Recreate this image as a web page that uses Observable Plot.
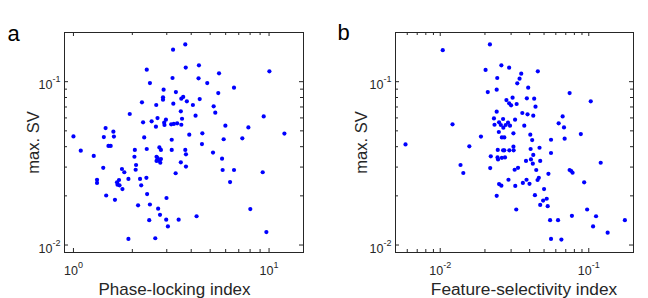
<!DOCTYPE html>
<html><head><meta charset="utf-8">
<script src="https://cdn.jsdelivr.net/npm/d3@7"></script>
<script src="https://cdn.jsdelivr.net/npm/@observablehq/plot@0.6"></script>
<style>
body{margin:0;background:#fff;}
#wrap{display:flex;width:648px;height:298px;overflow:hidden;}
svg{display:block}
</style></head><body><div id="wrap"></div>
<script>
// Panel a: phase-locking index vs max. SV
const plIndex = [1.00,1.09,1.27,1.42,1.32,1.32,1.47,1.43,1.46,1.51,1.55,1.60,1.61,1.63,1.71,1.67,1.68,1.72,1.77,1.78,1.82,1.91,1.94,2.06,2.05,2.09,2.08,2.14,2.19,2.22,2.24,2.27,2.30,2.37,2.36,2.38,2.37,2.46,2.44,2.46,2.51,2.64,2.65,2.62,2.69,2.71,2.75,2.80,2.66,2.69,2.66,2.74,2.80,2.78,2.77,2.89,2.87,2.87,2.91,2.97,2.92,2.98,2.99,3.04,3.18,3.18,3.16,3.21,3.23,3.24,3.34,3.33,3.26,3.39,3.54,3.54,3.59,3.56,3.64,3.45,1.91,3.73,3.75,3.73,3.76,3.76,3.80,3.56,3.91,4.08,4.21,4.26,4.38,4.36,4.42,4.56,4.54,4.83,5.21,5.31,5.17,5.50,5.55,5.98,5.86,5.75,5.79,6.62,6.62,6.32,7.30,7.84,8.02,9.28,9.39,9.69,10.04,11.98];
const svA = [0.0462,0.0378,0.0351,0.0297,0.0251,0.0240,0.0201,0.0458,0.0520,0.0404,0.0404,0.0494,0.0461,0.0189,0.0250,0.0242,0.0234,0.0232,0.0292,0.0220,0.0279,0.0254,0.0634,0.0382,0.0347,0.0309,0.0289,0.0175,0.0254,0.0232,0.0747,0.0564,0.0456,0.0387,0.0258,0.0205,0.1184,0.0177,0.0142,0.0981,0.0572,0.0530,0.0720,0.0110,0.0599,0.0167,0.0396,0.0382,0.0347,0.0341,0.0327,0.0328,0.0336,0.0319,0.0153,0.0893,0.0802,0.0776,0.0561,0.0585,0.0543,0.0143,0.0194,0.0130,0.0441,0.0382,0.0548,0.1053,0.157,0.0733,0.0864,0.0275,0.0551,0.0556,0.0321,0.0658,0.0593,0.0787,0.0806,0.0143,0.0109,0.169,0.122,0.0382,0.0359,0.0302,0.0758,0.0545,0.0474,0.0720,0.0619,0.0150,0.126,0.1048,0.0783,0.0483,0.0415,0.0981,0.0706,0.0646,0.0368,0.0852,0.1125,0.0538,0.0444,0.0338,0.0288,0.0919,0.0288,0.0243,0.0450,0.0525,0.0166,0.0279,0.0613,0.0120,0.1157,0.0481];

// Panel b: feature-selectivity index vs max. SV
const fsIndex = [0.00584,0.0104,0.0121,0.0157,0.0137,0.0143,0.0188,0.0202,0.0216,0.0258,0.0291,0.0209,0.0240,0.0242,0.0217,0.0219,0.0230,0.0232,0.0240,0.0249,0.0256,0.0266,0.0265,0.0276,0.0286,0.0295,0.0319,0.0248,0.0260,0.0270,0.0244,0.0265,0.0270,0.0292,0.0312,0.0311,0.0311,0.0243,0.0245,0.0260,0.0273,0.0240,0.0249,0.0258,0.0288,0.0320,0.0325,0.0317,0.0334,0.0279,0.0291,0.0300,0.0327,0.0307,0.0330,0.0342,0.0351,0.0454,0.0391,0.0383,0.0429,0.0438,0.0357,0.0387,0.0423,0.0368,0.0404,0.0416,0.0557,0.0688,0.0884,0.0406,0.0466,0.0557,0.0423,0.0408,0.0378,0.0471,0.0420,0.0443,0.0535,0.0381,0.0461,0.0452,0.0360,0.0399,0.0500,0.0434,0.0521,0.0493,0.0471,0.0529,0.0549,0.0621,0.0557,0.0654,0.0667,0.0627,0.0681,0.0743,0.1031,0.0743,0.0762,0.0778,0.0931,0.0770,0.0975,0.1069,0.1119,0.1203,0.134,0.175];
const svB = [0.0413,0.156,0.0548,0.0402,0.0309,0.0276,0.0461,0.118,0.169,0.126,0.1218,0.0864,0.0893,0.1053,0.0296,0.0349,0.0596,0.0545,0.0655,0.0564,0.0543,0.0523,0.0591,0.0543,0.0561,0.0538,0.0585,0.0492,0.0456,0.0456,0.0382,0.0380,0.0380,0.0380,0.0380,0.0400,0.0483,0.0344,0.0334,0.0342,0.0344,0.0200,0.0236,0.0231,0.0251,0.0230,0.0165,0.0289,0.0297,0.0772,0.0737,0.0716,0.0730,0.0798,0.0977,0.1043,0.1119,0.1157,0.0919,0.0791,0.0787,0.0703,0.0643,0.0631,0.0619,0.0538,0.0474,0.0439,0.0441,0.0448,0.0478,0.0387,0.0394,0.0366,0.0356,0.0334,0.0327,0.0327,0.0315,0.0288,0.0273,0.0251,0.0258,0.0250,0.0240,0.0237,0.0220,0.0202,0.0192,0.0187,0.0176,0.0173,0.0142,0.0142,0.0109,0.0108,0.0613,0.0556,0.0525,0.0852,0.0758,0.0288,0.0284,0.0277,0.0242,0.0151,0.0165,0.0130,0.0150,0.0319,0.0119,0.0142];

// Ticks and labels
const xMajorA = [1, 10];
const xMinorA = [2,3,4,5,6,7,8,9];
const xMajorB = [0.01, 0.1];
const xMinorB = [0.006,0.007,0.008,0.009,0.02,0.03,0.04,0.05,0.06,0.07,0.08,0.09];
const yMajor = [0.01, 0.1];
const yMinor = [0.02,0.03,0.04,0.05,0.06,0.07,0.08,0.09];
const xDomainA = [0.9, 15];
const xDomainB = [0.005, 0.2];
const yDomain = [0.009, 0.2];
const xLabels = ["Phase-locking index", "Feature-selectivity index"];
const yLabel = "max. SV";
const letters = ["a", "b"];

const C = "#262626";
const FONT = "'Liberation Sans', Arial, Helvetica, sans-serif";
const W = 324, H = 298, MT = 32, MB = 46;
const fmt = d => "10^" + Math.round(Math.log10(d));

function panel({xs, ys, xDomain, xMajor, xMinor, xLabel, xlabDx, xlabSize, letter, ml, mr, ylabDx, letterDx, letterDy}) {
  const ph = H - MT - MB;
  const pw = W - ml - mr;
  const data = xs.map((x, i) => ({x, y: ys[i]}));
  const svg = Plot.plot({
    width: W, height: H,
    marginTop: MT, marginBottom: MB, marginLeft: ml, marginRight: mr,
    style: {fontFamily: FONT, color: C, background: "#fff", overflow: "visible"},
    x: {type: "log", domain: xDomain},
    y: {type: "log", domain: yDomain},
    marks: [
      Plot.frame({stroke: C, strokeWidth: 1}),
      Plot.tickX(xMajor, {x: d => d, stroke: C, insetTop: ph - 4}),
      Plot.tickX(xMajor, {x: d => d, stroke: C, insetBottom: ph - 4}),
      Plot.tickX(xMinor, {x: d => d, stroke: C, insetTop: ph - 3}),
      Plot.tickX(xMinor, {x: d => d, stroke: C, insetBottom: ph - 3}),
      Plot.tickY(yMajor, {y: d => d, stroke: C, insetRight: pw - 4}),
      Plot.tickY(yMajor, {y: d => d, stroke: C, insetLeft: pw - 4}),
      Plot.tickY(yMinor, {y: d => d, stroke: C, insetRight: pw - 3}),
      Plot.tickY(yMinor, {y: d => d, stroke: C, insetLeft: pw - 3}),
      Plot.axisX(xMajor, {anchor: "bottom", tickFormat: fmt, tickSize: 0, tickPadding: 14, fontSize: 12.5, fill: C, label: null}),
      Plot.axisY(yMajor, {anchor: "left", tickFormat: fmt, tickSize: 0, tickPadding: 4, fontSize: 12.5, fill: C, label: null, dy: 3.5}),
      Plot.dot(data, {x: "x", y: "y", r: 2.1, fill: "#0000ff", stroke: null}),
      Plot.text([xLabel], {text: d => d, frameAnchor: "bottom", textAnchor: "middle", lineAnchor: "middle", dx: xlabDx, dy: 37, fontSize: xlabSize, fill: C}),
      Plot.text([yLabel], {text: d => d, frameAnchor: "left", textAnchor: "middle", lineAnchor: "middle", rotate: -90, dx: ylabDx, fontSize: 16.5, fill: C}),
      Plot.text([letter], {text: d => d, frameAnchor: "top-left", textAnchor: "start", lineAnchor: "middle", dx: letterDx, dy: letterDy, fontSize: 22, fill: "#000"})
    ]
  });
  const ns = "http://www.w3.org/2000/svg";
  svg.querySelectorAll("text").forEach(t => {
    const m = t.textContent.match(/^10\^(-?\d+)$/);
    if (m) {
      t.textContent = "";
      const a = document.createElementNS(ns, "tspan");
      a.textContent = "10";
      const b = document.createElementNS(ns, "tspan");
      b.setAttribute("dy", "-7");
      b.setAttribute("font-size", "9");
      b.textContent = m[1];
      t.append(a, b);
    }
  });
  return svg;
}

const wrap = document.getElementById("wrap");
wrap.append(panel({xs: plIndex, ys: svA, xDomain: xDomainA, xMajor: xMajorA, xMinor: xMinorA, xLabel: xLabels[0], xlabDx: -9.5, xlabSize: 17, letter: letters[0], ml: 64, mr: 21, ylabDx: -31, letterDx: -57, letterDy: 1.6}));
wrap.append(panel({xs: fsIndex, ys: svB, xDomain: xDomainB, xMajor: xMajorB, xMinor: xMinorB, xLabel: xLabels[1], xlabDx: 9.5, xlabSize: 17.3, letter: letters[1], ml: 71, mr: 15, ylabDx: -33.8, letterDx: -58, letterDy: 0.6}));
</script>
</body></html>
